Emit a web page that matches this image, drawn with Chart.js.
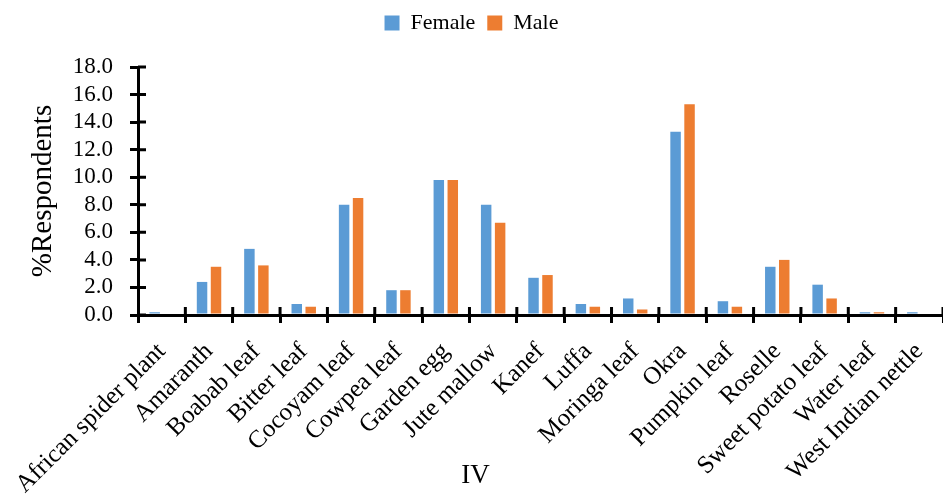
<!DOCTYPE html>
<html>
<head>
<meta charset="utf-8">
<script src="https://cdn.jsdelivr.net/npm/chart.js@4"></script>
<style>
  html, body { margin: 0; padding: 0; background: #fff; }
  #wrap { width: 943px; height: 499px; }
</style>
</head>
<body>
<div id="wrap"><canvas id="vegChart" width="943" height="499"></canvas></div>
<script>
const categories = ['African spider plant', 'Amaranth', 'Boabab leaf', 'Bitter leaf', 'Cocoyam leaf',
  'Cowpea leaf', 'Garden egg', 'Jute mallow', 'Kanef', 'Luffa', 'Moringa leaf', 'Okra',
  'Pumpkin leaf', 'Roselle', 'Sweet potato leaf', 'Water leaf', 'West Indian nettle'];
const female = [0.2, 2.4, 4.8, 0.8, 8.0, 1.8, 9.8, 8.0, 2.7, 0.8, 1.2, 13.3, 1.0, 3.5, 2.2, 0.2, 0.2];
const male = [0.0, 3.5, 3.6, 0.6, 8.5, 1.8, 9.8, 6.7, 2.9, 0.6, 0.4, 15.3, 0.6, 4.0, 1.2, 0.2, 0.0];
const yTicks = [0, 2, 4, 6, 8, 10, 12, 14, 16, 18];
const xTitle = 'IV';

const serif = '"Liberation Serif", "Times New Roman", serif';

// draws the inner half of each tick so the marks cross the axis lines
const crossTicks = {
  id: 'crossTicks',
  afterDraw(chart) {
    const ctx = chart.ctx;
    const x = chart.scales.x, y = chart.scales.y;
    ctx.save();
    ctx.strokeStyle = '#000';
    ctx.lineWidth = 3;
    ctx.beginPath();
    yTicks.forEach(v => {
      const py = y.getPixelForValue(v);
      ctx.moveTo(x.left, py);
      ctx.lineTo(x.left + 8, py);
    });
    const step = (x.right - x.left) / categories.length;
    for (let i = 1; i <= categories.length; i++) {
      const px = x.left + i * step;
      ctx.moveTo(px, y.bottom);
      ctx.lineTo(px, y.bottom - 8);
    }
    ctx.stroke();

    // x axis title is centred on the whole chart, as in the original
    ctx.fillStyle = '#000';
    ctx.font = '27px ' + serif;
    ctx.textAlign = 'center';
    ctx.textBaseline = 'alphabetic';
    ctx.fillText(xTitle, chart.width / 2 + 4, 483);
    ctx.restore();
  }
};

const legendHeight = {
  id: 'legendHeight',
  afterInit(chart) {
    const fit = chart.legend.fit;
    chart.legend.fit = function () {
      fit.call(this);
      this.height = 67;
    };
  }
};

new Chart(document.getElementById('vegChart'), {
  type: 'bar',
  data: {
    labels: categories,
    datasets: [
      { label: 'Female', data: female, backgroundColor: '#5B9BD5' },
      { label: 'Male', data: male, backgroundColor: '#ED7D31' }
    ]
  },
  options: {
    responsive: false,
    animation: false,
    layout: { padding: { left: 0, right: 0, top: 0, bottom: 0 } },
    datasets: { bar: { categoryPercentage: 0.59, barPercentage: 0.75 } },
    plugins: {
      tooltip: { enabled: false },
      legend: {
        position: 'top',
        align: 'center',
        labels: {
          color: '#000',
          boxWidth: 15,
          boxHeight: 15,
          padding: 12,
          font: { family: serif, size: 22 }
        }
      }
    },
    scales: {
      x: {
        afterFit(scale) {
          scale.height = 184;
          scale.paddingLeft = 0;
          scale.paddingRight = 0;
        },
        border: { color: '#000', width: 3 },
        grid: { drawOnChartArea: false, color: '#000', lineWidth: 3, tickLength: 8, offset: true },
        ticks: {
          autoSkip: false,
          maxRotation: 45,
          minRotation: 45,
          color: '#000',
          padding: 14,
          font: { family: serif, size: 25 }
        }
      },
      y: {
        min: 0,
        max: 18,
        afterFit(scale) { scale.width = 138; },
        afterBuildTicks(scale) { scale.ticks = yTicks.map(v => ({ value: v })); },
        border: { color: '#000', width: 3 },
        grid: { drawOnChartArea: false, color: '#000', lineWidth: 3, tickLength: 8 },
        ticks: {
          autoSkip: false,
          color: '#000',
          padding: 17,
          font: { family: serif, size: 23 },
          callback: v => Number(v).toFixed(1)
        },
        title: {
          display: true,
          text: '%Respondents',
          color: '#000',
          padding: { top: 26, bottom: 0 },
          font: { family: serif, size: 29 }
        }
      }
    }
  },
  plugins: [crossTicks, legendHeight]
});
</script>
</body>
</html>
